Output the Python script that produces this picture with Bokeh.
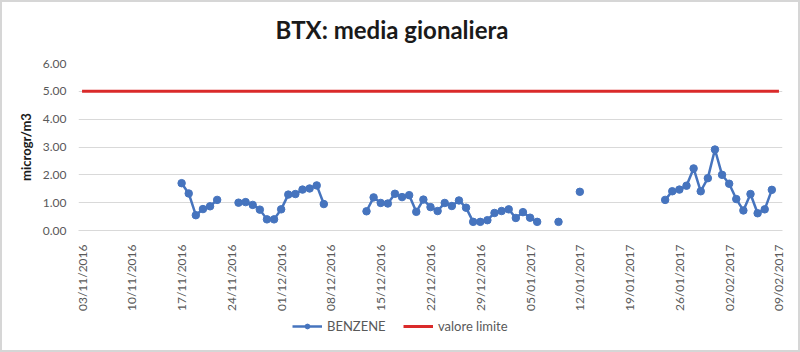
import numpy as np
import pandas as pd
from bokeh.plotting import figure
from bokeh.layouts import column
from bokeh.models import (DatetimeTickFormatter, FixedTicker, Range1d, Legend,
                          LegendItem, NumeralTickFormatter, Div)
from bokeh.embed import file_html
from bokeh.resources import INLINE

title_text = "BTX: media gionaliera"
y_label = "microgr/m3"
series_name = "BENZENE"
limit_name = "valore limite"
limit_value = 5.0
y_ticks = [0, 1, 2, 3, 4, 5, 6]
tick_dates = ["03/11/2016", "10/11/2016", "17/11/2016", "24/11/2016", "01/12/2016",
              "08/12/2016", "15/12/2016", "22/12/2016", "29/12/2016", "05/01/2017",
              "12/01/2017", "19/01/2017", "26/01/2017", "02/02/2017", "09/02/2017"]

benzene_dates = [
    "17/11/2016", "18/11/2016", "19/11/2016", "20/11/2016", "21/11/2016", "22/11/2016",
    "25/11/2016", "26/11/2016", "27/11/2016", "28/11/2016", "29/11/2016", "30/11/2016",
    "01/12/2016", "02/12/2016", "03/12/2016", "04/12/2016", "05/12/2016", "06/12/2016",
    "07/12/2016",
    "13/12/2016", "14/12/2016", "15/12/2016", "16/12/2016", "17/12/2016", "18/12/2016",
    "19/12/2016", "20/12/2016", "21/12/2016", "22/12/2016", "23/12/2016", "24/12/2016",
    "25/12/2016", "26/12/2016", "27/12/2016", "28/12/2016", "29/12/2016", "30/12/2016",
    "31/12/2016", "01/01/2017", "02/01/2017", "03/01/2017", "04/01/2017", "05/01/2017",
    "06/01/2017",
    "09/01/2017",
    "12/01/2017",
    "24/01/2017", "25/01/2017", "26/01/2017", "27/01/2017", "28/01/2017", "29/01/2017",
    "30/01/2017", "31/01/2017", "01/02/2017", "02/02/2017", "03/02/2017", "04/02/2017",
    "05/02/2017", "06/02/2017", "07/02/2017", "08/02/2017",
]
benzene_values = [
    1.70, 1.33, 0.55, 0.77, 0.87, 1.10,
    1.00, 1.02, 0.92, 0.75, 0.40, 0.40,
    0.76, 1.29, 1.31, 1.47, 1.51, 1.62,
    0.95,
    0.69, 1.19, 0.99, 0.97, 1.32, 1.20,
    1.27, 0.67, 1.11, 0.84, 0.70, 0.99,
    0.88, 1.08, 0.82, 0.31, 0.31, 0.37,
    0.63, 0.70, 0.76, 0.45, 0.66, 0.46,
    0.31,
    0.31,
    1.39,
    1.10, 1.41, 1.47, 1.61, 2.23, 1.41,
    1.88, 2.91, 2.00, 1.68, 1.13, 0.72,
    1.31, 0.62, 0.76, 1.46,
]

BLUE = "#4674BE"
RED = "#DA2A2A"
GRAY_TXT = "#595959"
GRID = "#D9D9D9"
FONT = "Lato"
TITLE_H = 50
MAIN_H = 264
LEG_H = 38
FRAME_TOP = 63
FRAME_BOTTOM = 232

dates = pd.to_datetime(benzene_dates, format="%d/%m/%Y")
vals = np.array(benzene_values, dtype=float)

# insert NaN breaks where days are missing so the line is interrupted
line_x, line_y = [], []
for i, (d, v) in enumerate(zip(dates, vals)):
    if i > 0 and (d - dates[i - 1]).days > 1:
        line_x.append(dates[i - 1] + pd.Timedelta(days=1))
        line_y.append(np.nan)
    line_x.append(d)
    line_y.append(v)

tick_dt = pd.to_datetime(tick_dates, format="%d/%m/%Y")
half = pd.Timedelta(hours=12)
x_rng = Range1d(tick_dt[0] - half, tick_dt[-1] + half)
y_rng = Range1d(0, 6)

title_div = Div(
    text=(f'<div style="width:800px;margin-left:-8px;text-align:center;'
          f'font-family:{FONT};font-size:24px;font-weight:bold;color:#1a1a1a;'
          f'line-height:24px;padding-top:18px;">{title_text}</div>'),
    width=800, height=TITLE_H, margin=0)

p = figure(width=800, height=MAIN_H, x_axis_type="datetime", output_backend="svg",
           toolbar_location=None, x_range=x_rng, y_range=y_rng,
           min_border_left=78, min_border_right=18,
           min_border_top=FRAME_TOP - TITLE_H,
           min_border_bottom=TITLE_H + MAIN_H - FRAME_BOTTOM)
p.outline_line_color = None
p.background_fill_color = None
p.border_fill_color = None

xa = p.xaxis[0]
xa.ticker = FixedTicker(ticks=[t.value / 1e6 for t in tick_dt])
fmt = "%d/%m/%Y"
xa.formatter = DatetimeTickFormatter(microseconds=fmt, milliseconds=fmt, seconds=fmt,
                                     minsec=fmt, minutes=fmt, hourmin=fmt, hours=fmt,
                                     days=fmt, months=fmt, years=fmt)
xa.major_label_orientation = np.pi / 2
xa.major_label_text_font = FONT
xa.major_label_text_font_size = "12px"
xa.major_label_text_color = GRAY_TXT
xa.major_label_standoff = 8
xa.axis_line_color = GRID
xa.major_tick_line_color = None
xa.minor_tick_line_color = None

ya = p.yaxis[0]
ya.ticker = FixedTicker(ticks=y_ticks)
ya.formatter = NumeralTickFormatter(format="0.00")
ya.major_label_text_font = FONT
ya.major_label_text_font_size = "12px"
ya.major_label_text_color = GRAY_TXT
ya.major_label_standoff = 6
ya.axis_line_color = None
ya.major_tick_line_color = None
ya.minor_tick_line_color = None
ya.axis_label = y_label
ya.axis_label_text_font = FONT
ya.axis_label_text_font_size = "13px"
ya.axis_label_text_font_style = "bold"
ya.axis_label_text_color = "#1a1a1a"
ya.axis_label_standoff = 6

p.xgrid.grid_line_color = None
p.ygrid.grid_line_color = GRID
p.ygrid.grid_line_width = 1

p.line(x=[tick_dt[0], tick_dt[-1]], y=[limit_value, limit_value],
       line_color=RED, line_width=3)
p.line(x=line_x, y=line_y, line_color=BLUE, line_width=2.5)
p.scatter(x=dates, y=vals, size=7.5, fill_color=BLUE, line_color=BLUE)

# legend strip underneath (own figure, hidden copies of the renderers)
lg = figure(width=800, height=LEG_H, output_backend="svg", toolbar_location=None,
            x_axis_location=None, y_axis_location=None,
            x_range=Range1d(0, 1), y_range=Range1d(0, 1),
            min_border=0)
lg.outline_line_color = None
lg.grid.visible = False
lg.background_fill_color = None
lg.border_fill_color = None
l_limit = lg.line(x=[tick_dt[0], tick_dt[-1]], y=[limit_value, limit_value],
                  line_color=RED, line_width=3, visible=False)
l_line = lg.line(x=line_x, y=line_y, line_color=BLUE, line_width=2.5, visible=False)
l_pts = lg.scatter(x=dates, y=vals, size=7.5, fill_color=BLUE, line_color=BLUE,
                   visible=False)

legend = Legend(items=[LegendItem(label=series_name, renderers=[l_line, l_pts]),
                       LegendItem(label=limit_name, renderers=[l_limit])],
                orientation="horizontal", location=(214, 18),
                label_text_font=FONT, label_text_font_size="13px",
                label_text_color=GRAY_TXT, glyph_width=30, glyph_height=12,
                label_standoff=5, label_width=68, spacing=8, padding=0, margin=0,
                border_line_color=None, background_fill_alpha=0)
lg.add_layout(legend, "center")

layout = column(title_div, p, lg, spacing=0,
                styles={"outline": "2px solid #D6D6D6", "outline-offset": "-2px",
                        "background-color": "white"})
open("out.html", "w").write(file_html(layout, INLINE))
